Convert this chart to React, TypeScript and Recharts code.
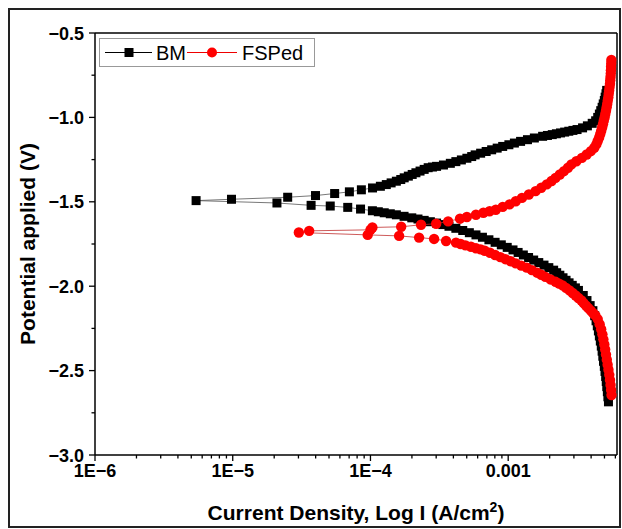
import { ScatterChart, Scatter, XAxis, YAxis, Legend, Label, ReferenceLine } from 'recharts';

// [log10 I (A/cm2), potential (V)] in scan order: cathodic branch up to Ecorr, then anodic
const bmPoints: [number, number][] = [
  [-2.272, -2.685], [-2.276, -2.655], [-2.28, -2.625], [-2.284, -2.595], [-2.288, -2.565],
  [-2.292, -2.535], [-2.297, -2.505], [-2.302, -2.475], [-2.308, -2.445], [-2.313, -2.415],
  [-2.318, -2.385], [-2.324, -2.355], [-2.331, -2.325], [-2.338, -2.295], [-2.345, -2.265],
  [-2.353, -2.235], [-2.362, -2.205], [-2.372, -2.175], [-2.385, -2.145], [-2.405, -2.115],
  [-2.428, -2.085], [-2.455, -2.055], [-2.49, -2.025], [-2.512, -2.01], [-2.535, -1.995],
  [-2.558, -1.98], [-2.58, -1.965], [-2.602, -1.95], [-2.625, -1.935], [-2.648, -1.92],
  [-2.67, -1.905], [-2.705, -1.89], [-2.74, -1.875], [-2.778, -1.86], [-2.815, -1.845],
  [-2.852, -1.83], [-2.89, -1.815], [-2.928, -1.8], [-2.965, -1.785], [-3.007, -1.77],
  [-3.05, -1.755], [-3.095, -1.74], [-3.14, -1.725], [-3.187, -1.71], [-3.234, -1.696],
  [-3.282, -1.683], [-3.33, -1.67], [-3.38, -1.657], [-3.43, -1.645], [-3.475, -1.635],
  [-3.52, -1.626], [-3.565, -1.618], [-3.61, -1.61], [-3.655, -1.602], [-3.7, -1.595],
  [-3.756, -1.586], [-3.812, -1.577], [-3.856, -1.571], [-3.9, -1.565], [-3.943, -1.559],
  [-3.986, -1.553], [-4.072, -1.543], [-4.165, -1.533], [-4.292, -1.525], [-4.431, -1.521],
  [-4.679, -1.507], [-5.266, -1.493],
  [-5.009, -1.485], [-4.601, -1.473], [-4.399, -1.463], [-4.26, -1.451], [-4.153, -1.441],
  [-4.066, -1.429], [-3.985, -1.418], [-3.928, -1.408], [-3.885, -1.398], [-3.85, -1.388],
  [-3.812, -1.378], [-3.78, -1.368], [-3.755, -1.358], [-3.725, -1.348], [-3.697, -1.338],
  [-3.67, -1.328], [-3.64, -1.318], [-3.61, -1.308], [-3.581, -1.298], [-3.55, -1.294],
  [-3.52, -1.29], [-3.47, -1.282], [-3.42, -1.272], [-3.38, -1.262], [-3.34, -1.252],
  [-3.3, -1.242], [-3.265, -1.232], [-3.24, -1.222], [-3.2, -1.212], [-3.16, -1.202],
  [-3.12, -1.192], [-3.08, -1.182], [-3.04, -1.172], [-2.995, -1.162], [-2.955, -1.152],
  [-2.91, -1.142], [-2.86, -1.132], [-2.81, -1.122], [-2.75, -1.112], [-2.715, -1.107],
  [-2.68, -1.102], [-2.65, -1.097], [-2.62, -1.092], [-2.59, -1.087], [-2.56, -1.082],
  [-2.53, -1.077], [-2.5, -1.072], [-2.46, -1.062], [-2.425, -1.05], [-2.39, -1.035],
  [-2.365, -1.02], [-2.35, -1.0], [-2.338, -0.98], [-2.328, -0.96], [-2.318, -0.94],
  [-2.31, -0.92], [-2.302, -0.9], [-2.296, -0.88], [-2.29, -0.86], [-2.285, -0.84],
];

const fsPoints: [number, number][] = [
  [-2.25, -2.645], [-2.253, -2.615], [-2.257, -2.585], [-2.261, -2.555], [-2.266, -2.525],
  [-2.272, -2.495], [-2.278, -2.465], [-2.284, -2.435], [-2.29, -2.405], [-2.296, -2.375],
  [-2.302, -2.345], [-2.309, -2.315], [-2.316, -2.285], [-2.325, -2.255], [-2.336, -2.225],
  [-2.35, -2.195], [-2.367, -2.173], [-2.383, -2.16], [-2.4, -2.145], [-2.418, -2.13],
  [-2.435, -2.115], [-2.452, -2.1], [-2.468, -2.085], [-2.49, -2.07], [-2.51, -2.055],
  [-2.532, -2.04], [-2.555, -2.025], [-2.58, -2.01], [-2.605, -1.995], [-2.63, -1.985],
  [-2.656, -1.974], [-2.693, -1.96], [-2.73, -1.945], [-2.76, -1.932], [-2.79, -1.92],
  [-2.828, -1.905], [-2.865, -1.89], [-2.905, -1.878], [-2.945, -1.865], [-2.982, -1.852],
  [-3.02, -1.84], [-3.057, -1.828], [-3.095, -1.815], [-3.132, -1.802], [-3.17, -1.79],
  [-3.2, -1.782], [-3.234, -1.775], [-3.27, -1.766], [-3.31, -1.758], [-3.345, -1.75],
  [-3.379, -1.742], [-3.451, -1.732], [-3.538, -1.72], [-3.647, -1.712], [-3.792, -1.702],
  [-4.02, -1.696], [-4.52, -1.682],
  [-4.445, -1.672], [-4.0, -1.666], [-3.986, -1.652], [-3.777, -1.648], [-3.633, -1.636],
  [-3.523, -1.63], [-3.436, -1.616], [-3.35, -1.6], [-3.3, -1.59], [-3.234, -1.577],
  [-3.18, -1.565], [-3.135, -1.556], [-3.09, -1.547], [-3.04, -1.53], [-2.99, -1.515],
  [-2.945, -1.497], [-2.9, -1.477], [-2.85, -1.457], [-2.801, -1.437], [-2.76, -1.417],
  [-2.72, -1.397], [-2.685, -1.377], [-2.656, -1.358], [-2.625, -1.338], [-2.595, -1.318],
  [-2.566, -1.298], [-2.541, -1.278], [-2.505, -1.26], [-2.465, -1.24], [-2.43, -1.22],
  [-2.4, -1.2], [-2.375, -1.18], [-2.36, -1.16], [-2.35, -1.14], [-2.34, -1.12],
  [-2.332, -1.1], [-2.325, -1.08], [-2.318, -1.06], [-2.312, -1.04], [-2.306, -1.02],
  [-2.3, -1.0], [-2.295, -0.98], [-2.29, -0.96], [-2.285, -0.94], [-2.281, -0.92],
  [-2.277, -0.9], [-2.273, -0.88], [-2.27, -0.86], [-2.267, -0.84], [-2.264, -0.82],
  [-2.261, -0.8], [-2.259, -0.78], [-2.257, -0.76], [-2.255, -0.74], [-2.254, -0.72],
  [-2.253, -0.7], [-2.252, -0.68], [-2.251, -0.66],
];

const seriesNames = ['BM', 'FSPed'];

const xMajorTicks = [-6, -5, -4, -3];
const xMajorLabels = ['1E\u22126', '1E\u22125', '1E\u22124', '0.001'];
const xDomain: [number, number] = [-6, -2.21];
const yTicks = [-3, -2.75, -2.5, -2.25, -2, -1.75, -1.5, -1.25, -1, -0.75, -0.5];
const yLabelTicks = [-3, -2.5, -2, -1.5, -1, -0.5];
const yLabels = ['\u22123.0', '\u22122.5', '\u22122.0', '\u22121.5', '\u22121.0', '\u22120.5'];

// minor ticks at 2..9 x each decade
const xTicks: number[] = [];
xMajorTicks.forEach(d => {
  xTicks.push(d);
  for (let m = 2; m <= 9; m++) {
    const v = d + Math.log10(m);
    if (v <= xDomain[1]) xTicks.push(v);
  }
});

const bmData = bmPoints.map(([x, y]) => ({ x, y }));
const fsData = fsPoints.map(([x, y]) => ({ x, y }));

const FONT = '"Liberation Sans", Arial, sans-serif';

function XTick(props: any) {
  const { x, y, payload } = props;
  const i = xMajorTicks.indexOf(payload.value);
  return (
    <g>
      <line x1={x} x2={x} y1={y} y2={y + (i >= 0 ? 6 : 3.5)} stroke="#000" strokeWidth={1.3} />
      {i >= 0 && (
        <text x={x} y={y + 22} textAnchor="middle" fontFamily={FONT} fontWeight="bold" fontSize={18} fill="#000">
          {xMajorLabels[i]}
        </text>
      )}
    </g>
  );
}

function YTick(props: any) {
  const { x, y, payload } = props;
  const i = yLabelTicks.indexOf(payload.value);
  return (
    <g>
      <line x1={x} x2={x - (i >= 0 ? 6 : 3.5)} y1={y} y2={y} stroke="#000" strokeWidth={1.3} />
      {i >= 0 && (
        <text x={x - 11} y={y + 6.5} textAnchor="end" fontFamily={FONT} fontWeight="bold" fontSize={18} fill="#000">
          {yLabels[i]}
        </text>
      )}
    </g>
  );
}

const renderLegend = () => (
  <svg width={216} height={29} style={{ display: 'block' }}>
    <rect x={0.5} y={0.5} width={215} height={28} fill="#fff" stroke="#999" />
    <line x1={6} x2={53} y1={14.5} y2={14.5} stroke="#000" strokeWidth={1} />
    <rect x={25.5} y={10} width={9} height={9} fill="#000" />
    <text x={57} y={21.5} fontFamily={FONT} fontSize={20} fill="#000">{seriesNames[0]}</text>
    <line x1={88} x2={138} y1={14.5} y2={14.5} stroke="#e00" strokeWidth={1} />
    <circle cx={113} cy={14.5} r={5} fill="#f00" />
    <text x={143} y={21.5} fontFamily={FONT} fontSize={20} fill="#000">{seriesNames[1]}</text>
  </svg>
);

export default function App() {
  return (
    <div style={{ position: 'absolute', left: 0, top: 0, width: 622, height: 529, background: '#fff' }}>
      <div
        style={{
          position: 'absolute', left: 8, top: 8, width: 613, height: 520,
          border: '2px solid #222', boxSizing: 'border-box',
        }}
      />
      <ScatterChart width={622} height={529} margin={{ top: 33, right: 5, bottom: 0, left: 0 }}>
        <XAxis
          type="number"
          dataKey="x"
          domain={xDomain}
          ticks={xTicks}
          interval={0}
          allowDataOverflow
          height={74}
          tickSize={0}
          tickMargin={0}
          tickLine={false}
          tick={(p: any) => <XTick {...p} />}
          axisLine={{ stroke: '#000', strokeWidth: 1.5 }}
        >
          <Label
            content={({ viewBox }: any) => (
              <text
                x={viewBox.x + viewBox.width / 2}
                y={viewBox.y + 64.5}
                textAnchor="middle"
                fontFamily={FONT}
                fontWeight="bold"
                fontSize={21}
                fill="#000"
              >
                Current Density, Log I (A/cm<tspan dy={-8} fontSize={14}>2</tspan><tspan dy={8}>)</tspan>
              </text>
            )}
          />
        </XAxis>
        <YAxis
          type="number"
          dataKey="y"
          domain={[-3, -0.5]}
          ticks={yTicks}
          interval={0}
          allowDataOverflow
          width={95}
          tickSize={0}
          tickMargin={0}
          tickLine={false}
          tick={(p: any) => <YTick {...p} />}
          axisLine={{ stroke: '#000', strokeWidth: 1.5 }}
        >
          <Label
            content={({ viewBox }: any) => {
              const cy = viewBox.y + viewBox.height / 2;
              return (
                <text
                  x={35}
                  y={cy}
                  transform={`rotate(-90 35 ${cy})`}
                  textAnchor="middle"
                  fontFamily={FONT}
                  fontWeight="bold"
                  fontSize={21}
                  fill="#000"
                >
                  Potential applied (V)
                </text>
              );
            }}
          />
        </YAxis>
        <ReferenceLine y={-0.5} stroke="#000" strokeWidth={1.5} />
        <ReferenceLine x={xDomain[1]} stroke="#000" strokeWidth={1.5} />
        <Legend
          layout="vertical"
          align="center"
          verticalAlign="middle"
          content={renderLegend}
          wrapperStyle={{ left: 99, top: 38, width: 216, height: 29 }}
        />
        <Scatter
          name={seriesNames[0]}
          data={bmData}
          isAnimationActive={false}
          line={{ stroke: '#555', strokeWidth: 0.8 }}
          shape={(p: any) => <rect x={p.cx - 4.5} y={p.cy - 4.5} width={9} height={9} fill="#000" />}
        />
        <Scatter
          name={seriesNames[1]}
          data={fsData}
          isAnimationActive={false}
          line={{ stroke: '#c03030', strokeWidth: 0.8 }}
          shape={(p: any) => <circle cx={p.cx} cy={p.cy} r={5.2} fill="#ff0000" />}
        />
      </ScatterChart>
    </div>
  );
}
